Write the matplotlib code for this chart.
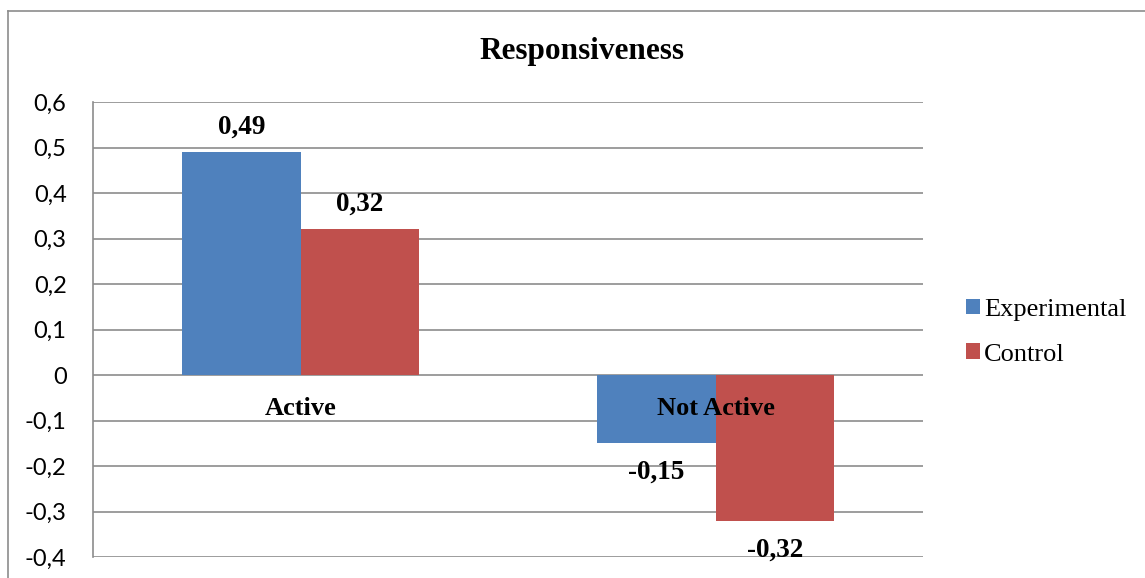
import numpy as np
import matplotlib; matplotlib.use("Agg"); import matplotlib.pyplot as plt
from matplotlib.lines import Line2D

categories=["Active","Not Active"]
series=["Experimental","Control"]
experimental=[0.49,-0.15]
control=[0.32,-0.32]
value_labels=[["0,49","-0,15"],["0,32","-0,32"]]
yticks=[0.6,0.5,0.4,0.3,0.2,0.1,0,-0.1,-0.2,-0.3,-0.4]
ytick_labels=["0,6","0,5","0,4","0,3","0,2","0,1","0","-0,1","-0,2","-0,3","-0,4"]
title="Responsiveness"

COLORS=["#4F81BD","#C0504D"]; GRID="#8C8C8C"
SERIF="Liberation Serif"

fig=plt.figure(figsize=(11.45,5.78),dpi=100)
ax=fig.add_axes([93/1145,1-557/578,(923-93)/1145,(557-102)/578])

# outer chart border
fig.add_artist(Line2D([8/1145,8/1145],[0,1-11/578],transform=fig.transFigure,color=GRID,lw=1.2))
fig.add_artist(Line2D([8/1145,1],[1-11/578,1-11/578],transform=fig.transFigure,color=GRID,lw=1.2))

x=np.arange(len(categories)); w=0.285
for j,(vals,c) in enumerate(zip([experimental,control],COLORS)):
    xs=x-w/2+j*w
    ax.bar(xs,vals,width=w,color=c,label=series[j],zorder=3)
    for xi,v,lab in zip(xs,vals,value_labels[j]):
        off=18 if v>0 else -21
        ax.annotate(lab,(xi,v),xytext=(0,off),textcoords="offset points",
                    ha="center",va="center",
                    fontsize=19.5,fontweight="bold",family=SERIF,zorder=5)

for xi,cat in zip(x,categories):
    ax.annotate(cat,(xi,0),xytext=(0,-24),textcoords="offset points",ha="center",va="center",
                fontsize=19,fontweight="bold",family=SERIF,zorder=6)

ax.set_xlim(-0.5,1.5); ax.set_ylim(-0.4,0.6)
ax.set_yticks(yticks); ax.set_yticklabels(ytick_labels,fontsize=17,family="Lato")
ax.set_xticks([])
ax.tick_params(axis="y",length=0,pad=19)
for t in ax.get_yticklabels(): t.set_horizontalalignment("right")
ax.grid(axis="y",color=GRID,lw=1.2,zorder=0)
for s in ["top","right","bottom"]: ax.spines[s].set_visible(False)
ax.spines["left"].set_color(GRID); ax.spines["left"].set_linewidth(1.2)

fig.text(582/1145,1-52/578,title,ha="center",va="center",fontsize=22.5,fontweight="bold",family=SERIF)

fig.legend(loc="center left",bbox_to_anchor=(942/1145,1-332/578),frameon=False,
           prop={"family":SERIF,"size":19},handlelength=0.55,handleheight=0.55,
           handletextpad=0.15,labelspacing=0.85)

plt.savefig("out.png",dpi=100)
